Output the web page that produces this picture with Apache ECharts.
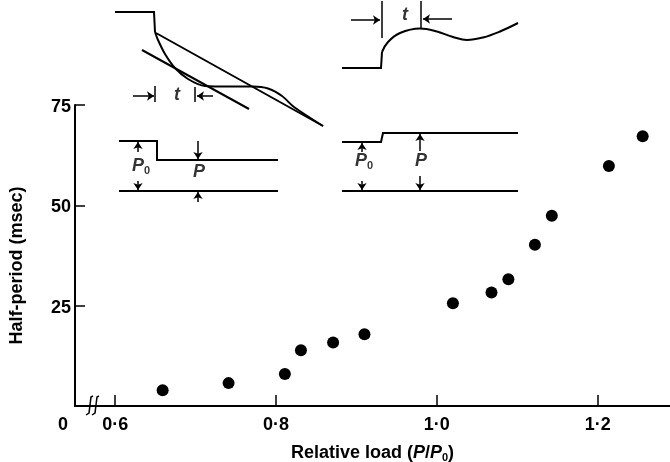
<!DOCTYPE html>
<html>
<head>
<meta charset="utf-8">
<script src="https://cdn.jsdelivr.net/npm/echarts@6/dist/echarts.min.js"></script>
<style>
  html, body, #main { width: 100%; height: 100%; margin: 0; background: #fff; }
</style>
</head>
<body>
<div id="main"></div>
<script>
// measured points: relative load vs half-period
var relLoad = [0.659, 0.741, 0.811, 0.831, 0.871, 0.910, 1.020, 1.068, 1.089, 1.122, 1.143, 1.214, 1.256];
var halfPeriod = [3.9, 5.7, 8.0, 13.9, 15.8, 17.9, 25.6, 28.3, 31.6, 40.2, 47.4, 59.8, 67.2];
var xTicks = [0.6, 0.8, 1.0, 1.2];

// inset sketches, in page-sized sketch units (0..670 x 0..462)
var leftStep = [[115, 12], [154, 12], [155, 32]];
var leftDecay = [[155, 32], [158, 40], [165, 54], [175, 68], [188, 79], [205, 86], [230, 86.5],
                 [253, 86.5], [268, 88.5], [282, 96], [294, 107], [323, 126]];
var leftTangents = [[[156, 33], [323, 126]], [[142, 50], [249, 109]]];
var leftLoad = [[[119, 141], [157, 141], [157, 160], [278, 160]], [[119, 191], [278, 191]]];
var rightStep = [[342, 68], [381, 68], [382, 52]];
var rightRise = [[382, 52], [388, 42], [400, 33], [420, 28.5], [437, 31.5], [453, 37],
                 [467, 40], [483, 37.5], [500, 31.5], [518, 23]];
var rightLoad = [[[342, 142], [381, 142], [383, 133], [518, 133]], [[342, 191], [518, 191]]];
var timeBars = [[[155, 86], [155, 102]], [[195, 87], [195, 102]], [[382, 1], [382, 38]], [[421, 1], [421, 28]]];
var breakMarks = [[[86, 415], [89, 413], [91, 397], [93, 396]], [[92, 415], [95, 413], [97, 397], [99, 396]]];
var arrows = [
  [[133, 96], [154, 96]], [[213, 96], [197, 96]],
  [[351, 20], [380, 20]], [[452, 19], [423, 19]],
  [[138, 152], [138, 142]], [[138, 181], [138, 190]],
  [[198, 141], [198, 159]], [[198, 202], [198, 192]],
  [[362, 152], [362, 143]], [[362, 181], [362, 190]],
  [[420, 151], [420, 134]], [[420, 176], [420, 190]]
];
var sketchLabels = [
  { name: 't', value: [177, 95] },
  { name: 't', value: [405, 15] },
  { name: 'P0', value: [141, 166] },
  { name: 'P', value: [199, 172] },
  { name: 'P0', value: [364, 161] },
  { name: 'P', value: [421, 161] }
];

var FONT = "'Liberation Sans', Arial, sans-serif";

var chart = echarts.init(document.getElementById('main'));

function segs(list) {
  return list.map(function (c) { return { coords: c }; });
}

chart.setOption({
  animation: false,
  grid: [
    { left: 75, right: 0, top: 105, bottom: 56, outerBoundsMode: 'none' },
    { left: 0, right: 0, top: 0, bottom: 0, outerBoundsMode: 'none' }
  ],
  xAxis: [{
    type: 'value',
    min: 0.55,
    max: 1.29,
    name: 'Relative load ({i|P}/{i|P}{s|0})',
    nameLocation: 'middle',
    nameGap: 37,
    nameTextStyle: {
      fontFamily: FONT, fontSize: 18, fontWeight: 'bold', color: '#000',
      rich: {
        i: { fontFamily: FONT, fontSize: 18, fontWeight: 'bold', fontStyle: 'italic', color: '#000' },
        s: { fontFamily: FONT, fontSize: 11, fontWeight: 'bold', color: '#000', padding: [9, 0, 0, 0] }
      }
    },
    axisLine: { lineStyle: { color: '#000', width: 2 } },
    axisTick: { inside: true, length: 11, customValues: xTicks, lineStyle: { color: '#000', width: 1.5 } },
    axisLabel: {
      customValues: xTicks,
      margin: 10,
      fontFamily: FONT, fontSize: 18, fontWeight: 'bold', color: '#000',
      formatter: function (v) { return v.toFixed(1).replace('.', '\u00b7'); }
    },
    splitLine: { show: false }
  }, {
    type: 'value', gridIndex: 1, min: 0, max: 670, show: false
  }],
  yAxis: [{
    type: 'value',
    min: 0,
    max: 75,
    interval: 25,
    name: 'Half-period (msec)',
    nameLocation: 'middle',
    nameGap: 49,
    nameTextStyle: { fontFamily: FONT, fontSize: 18, fontWeight: 'bold', color: '#000', padding: [0, 20, 0, 0] },
    axisLine: { lineStyle: { color: '#000', width: 2 } },
    axisTick: { inside: true, length: 10, lineStyle: { color: '#000', width: 1.5 } },
    axisLabel: {
      margin: 4,
      fontFamily: FONT, fontSize: 18, fontWeight: 'bold', color: '#000',
      formatter: function (v) { return v === 0 ? '{z|0}' : '{n|' + v + '}'; },
      rich: {
        n: { fontFamily: FONT, fontSize: 18, fontWeight: 'bold', color: '#000', padding: [4, 0, 0, 0] },
        z: { fontFamily: FONT, fontSize: 18, fontWeight: 'bold', color: '#000', padding: [38, 3, 0, 0] }
      }
    },
    splitLine: { show: false }
  }, {
    type: 'value', gridIndex: 1, min: 0, max: 462, inverse: true, show: false
  }],
  series: [{
    type: 'scatter',
    data: relLoad.map(function (x, i) { return [x, halfPeriod[i]]; }),
    symbol: 'circle',
    symbolSize: 12,
    itemStyle: { color: '#000', opacity: 1 },
    z: 5
  }, {
    type: 'lines',
    coordinateSystem: 'cartesian2d',
    xAxisIndex: 1, yAxisIndex: 1,
    polyline: true,
    silent: true,
    lineStyle: { color: '#000', width: 2, opacity: 1 },
    data: segs([leftStep, rightStep].concat(leftTangents, leftLoad, rightLoad))
  }, {
    type: 'lines',
    coordinateSystem: 'cartesian2d',
    xAxisIndex: 1, yAxisIndex: 1,
    polyline: true,
    silent: true,
    lineStyle: { color: '#000', width: 1.5, opacity: 1 },
    data: segs(timeBars.concat(breakMarks))
  }, {
    type: 'lines',
    coordinateSystem: 'cartesian2d',
    xAxisIndex: 1, yAxisIndex: 1,
    silent: true,
    symbol: ['none', 'arrow'],
    symbolSize: 7,
    lineStyle: { color: '#000', width: 1.5, opacity: 1 },
    data: segs(arrows)
  }, {
    type: 'line',
    xAxisIndex: 1, yAxisIndex: 1,
    data: leftDecay,
    smooth: 0.3,
    showSymbol: false,
    silent: true,
    lineStyle: { color: '#000', width: 2 }
  }, {
    type: 'line',
    xAxisIndex: 1, yAxisIndex: 1,
    data: rightRise,
    smooth: 0.4,
    showSymbol: false,
    silent: true,
    lineStyle: { color: '#000', width: 2 }
  }, {
    type: 'scatter',
    xAxisIndex: 1, yAxisIndex: 1,
    data: sketchLabels,
    symbolSize: 0,
    silent: true,
    label: {
      show: true,
      position: 'inside',
      formatter: function (p) {
        return p.name === 'P0' ? '{i|P}{s|0}' : '{i|' + p.name + '}';
      },
      rich: {
        i: { fontFamily: FONT, fontSize: 18, fontWeight: 'bold', fontStyle: 'italic', color: '#000' },
        s: { fontFamily: FONT, fontSize: 11, fontWeight: 'bold', color: '#000', padding: [9, 0, 0, 0] }
      }
    }
  }]
});
</script>
</body>
</html>
